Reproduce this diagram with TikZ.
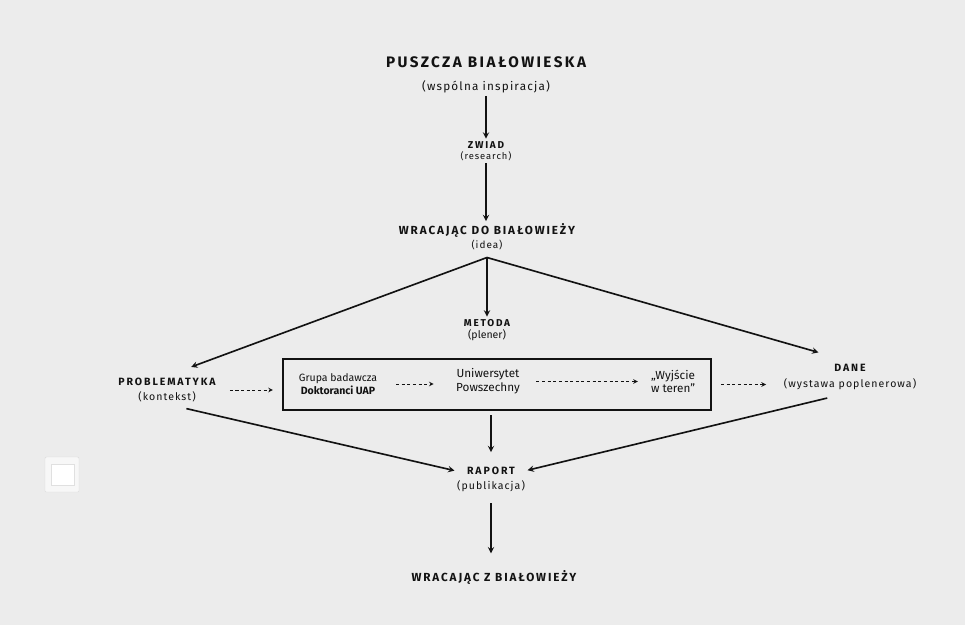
\documentclass[tikz,border=0pt]{standalone}
\usepackage{fontspec}
\setmainfont{Fira Sans}
\newfontfamily\titlefont[LetterSpace=16]{Fira Sans}
\newfontfamily\headfont[LetterSpace=18]{Fira Sans}
\newfontfamily\notefont[LetterSpace=10]{Fira Sans}
\usetikzlibrary{shapes.geometric, arrows}
\definecolor{wall}{RGB}{236,236,236}
\definecolor{ink}{RGB}{18,18,18}
\tikzstyle{stage} = [align=center, text=ink, inner sep=2pt]
\tikzstyle{frame} = [rectangle, draw=ink, line width=1.1pt, minimum width=12.84cm, minimum height=1.53cm]
\tikzstyle{arrow} = [line width=1.4pt, ->, >=stealth, draw=ink]
\tikzstyle{dasharrow} = [line width=0.8pt, dash pattern=on 2.6pt off 2.2pt, ->, >=stealth, draw=ink]

\begin{document}
\begin{tikzpicture}[x=0.03cm, y=-0.03cm]

    % wall and switch
    \fill [wall] (0,0) rectangle (965,625);
    \filldraw [fill=white!97!black, draw=black!15, rounded corners=1pt] (45,457) rectangle (79,492);
    \filldraw [fill=white, draw=black!12] (51,464) rectangle (74,485);

    \node (puszcza) [stage, font=\fontsize{10}{20}\selectfont] at (486,75)
        {{\titlefont\bfseries\fontsize{13}{15}\selectfont PUSZCZA BIAŁOWIESKA}\\{\notefont (wspólna inspiracja)}};
    \node (zwiad) [stage, font=\fontsize{8}{9.5}\selectfont] at (486,151)
        {{\headfont\bfseries\fontsize{8.5}{10}\selectfont ZWIAD}\\{\notefont (research)}};
    \node (wracajac) [stage, font=\fontsize{8.5}{12}\selectfont] at (487,237)
        {{\titlefont\bfseries\fontsize{10}{12}\selectfont WRACAJĄC DO BIAŁOWIEŻY}\\{\notefont (idea)}};
    \node (metoda) [stage, font=\fontsize{9}{10.5}\selectfont] at (487,330)
        {{\headfont\bfseries\fontsize{8.5}{10}\selectfont METODA}\\(plener)};
    \node (problem) [stage, font=\fontsize{9}{12}\selectfont] at (167,390)
        {{\headfont\bfseries PROBLEMATYKA}\\{\notefont (kontekst)}};
    \node (box) [frame] at (497,384.5) {};
    \node (grupa) [stage, font=\fontsize{9}{10.5}\selectfont] at (338,384)
        {Grupa badawcza\\\textbf{Doktoranci UAP}};
    \node (uniw) [stage, font=\fontsize{10}{12}\selectfont] at (488,381.5)
        {Uniwersytet\\Powszechny};
    \node (wyjscie) [stage, font=\fontsize{10}{11}\selectfont] at (673,381.5)
        {„Wyjście\\w teren”};
    \node (dane) [stage, font=\fontsize{9}{14}\selectfont] at (850,377)
        {{\headfont\bfseries DANE}\\{\notefont (wystawa poplenerowa)}};
    \node (raport) [stage, font=\fontsize{9}{13}\selectfont] at (491,479)
        {{\headfont\bfseries RAPORT}\\{\notefont (publikacja)}};
    \node (wracajacz) [stage] at (494,577)
        {\titlefont\bfseries\fontsize{10}{12}\selectfont WRACAJĄC Z BIAŁOWIEŻY};

    \coordinate (fan) at ([yshift=-4pt]wracajac.south);

    \draw [arrow] (puszcza.south) -- (puszcza.south |- zwiad.north);
    \draw [arrow] (zwiad.south) -- (zwiad.south |- wracajac.north);
    \draw [arrow] (fan) -- (metoda);
    \draw [arrow, shorten >=22pt] (fan) -- (problem.north);
    \draw [arrow, shorten >=28pt] (fan) -- (dane.north);

    \draw [dasharrow, shorten <=10pt, shorten >=8pt] (problem.east) -- (problem.east -| box.west);
    \draw [dasharrow, shorten <=14pt, shorten >=17pt] (grupa.east) -- (grupa.east -| uniw.west);
    \draw [dasharrow, shorten <=12pt, shorten >=9pt] (uniw.east) -- (uniw.east -| wyjscie.west);
    \draw [dasharrow, shorten <=8pt, shorten >=13pt] (box.east) -- (box.east -| dane.west);

    \draw [arrow, shorten <=4pt, shorten >=10pt] (raport.north |- box.south) -- (raport.north);
    \draw [arrow, shorten <=17pt] (problem.south) -- (raport);
    \draw [arrow, shorten <=20pt] (dane.south) -- (raport);
    \draw [arrow, shorten <=8pt, shorten >=12pt] (raport.south) -- (raport.south |- wracajacz.north);

\end{tikzpicture}
\end{document}
